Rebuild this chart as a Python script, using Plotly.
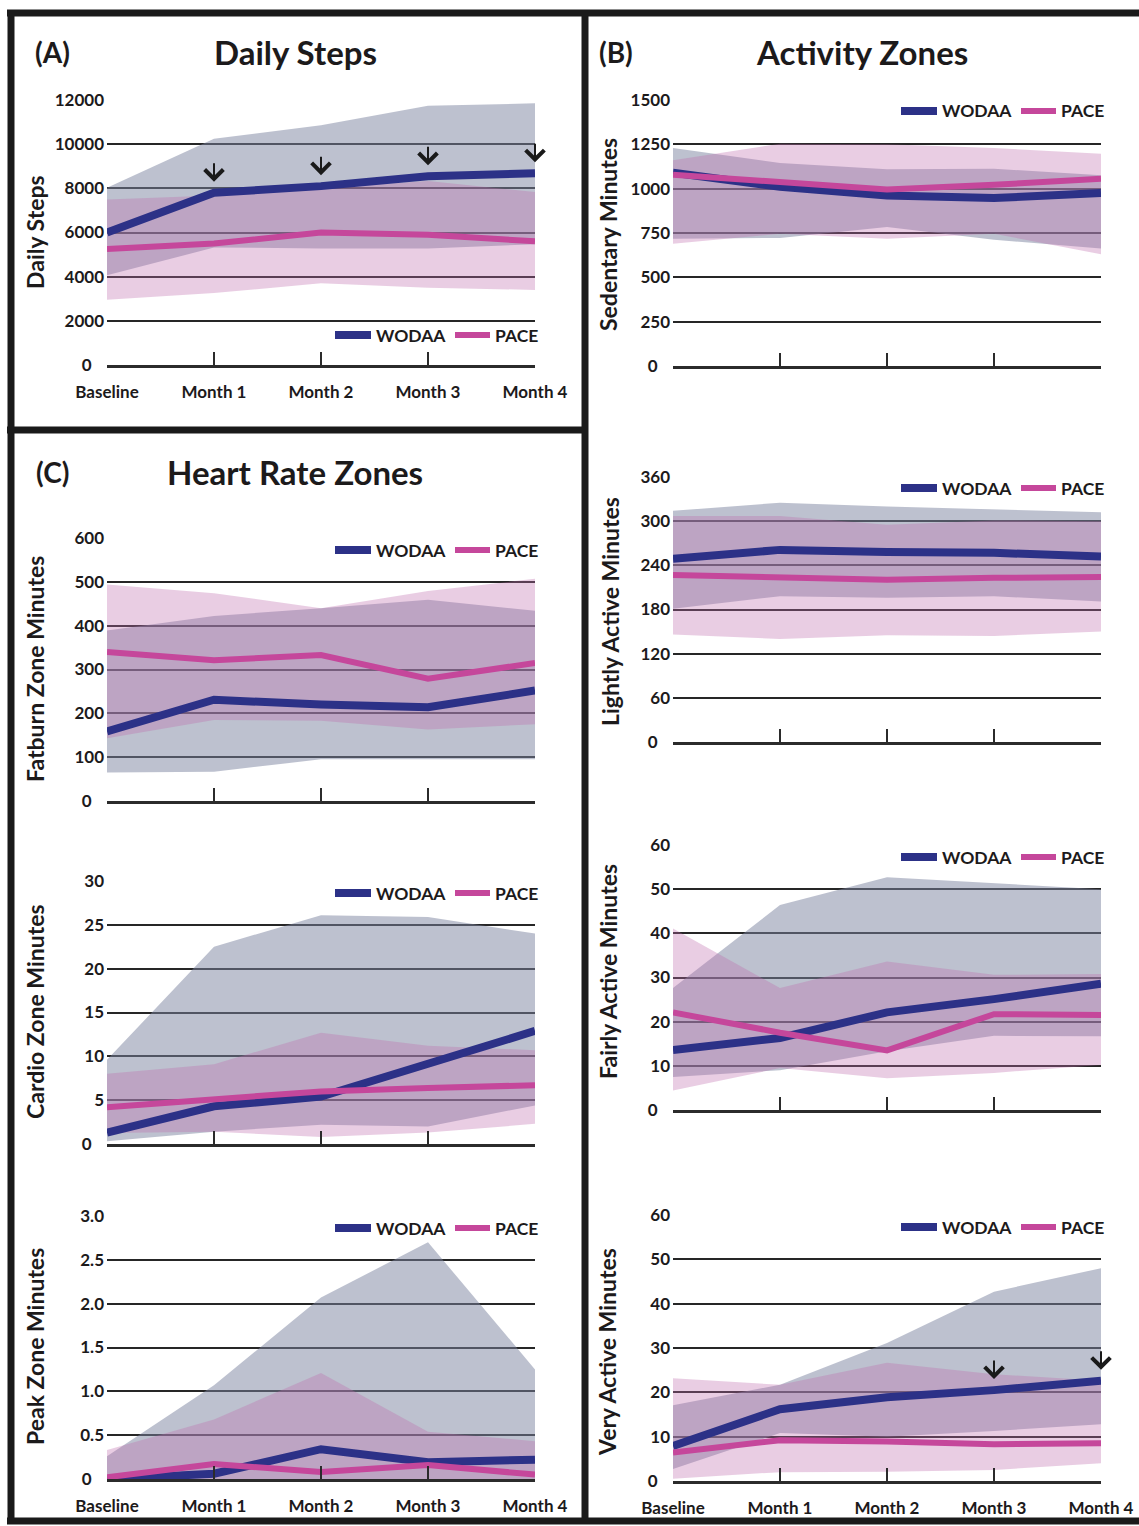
import plotly.graph_objects as go

W, H = 1139, 1526

months = ["Baseline", "Month 1", "Month 2", "Month 3", "Month 4"]
series_names = ["WODAA", "PACE"]

# ---------------- data ----------------
# (A) Daily steps
steps_wodaa = [6000, 7800, 8100, 8550, 8680]
steps_pace = [5250, 5500, 6000, 5900, 5600]
steps_wodaa_hi = [8030, 10240, 10860, 11740, 11850]
steps_wodaa_lo = [4060, 5320, 5280, 5280, 5470]
steps_pace_hi = [7500, 7680, 8030, 8330, 7830]
steps_pace_lo = [2960, 3260, 3700, 3500, 3400]
steps_arrow_months = ["Month 1", "Month 2", "Month 3", "Month 4"]

# (B) Sedentary minutes
sed_wodaa = [1090, 1010, 962, 947, 975]
sed_pace = [1079, 1038, 996, 1022, 1056]
sed_wodaa_hi = [1229, 1145, 1109, 1113, 1075]
sed_wodaa_lo = [718, 722, 784, 712, 662]
sed_pace_hi = [1160, 1253, 1250, 1229, 1197]
sed_pace_lo = [690, 746, 718, 746, 630]

# (B) Lightly active minutes
light_wodaa = [249, 261, 258, 257, 252]
light_pace = [227, 224, 220.5, 223, 224]
light_wodaa_hi = [314, 325, 320, 316, 312]
light_wodaa_lo = [181, 198, 196, 198, 191]
light_pace_hi = [307, 307, 295, 301, 300]
light_pace_lo = [146, 140, 145, 144, 150]

# (B) Fairly active minutes
fair_wodaa = [13.6, 16.3, 22.1, 25.1, 28.6]
fair_pace = [22.1, 17.5, 13.5, 21.7, 21.5]
fair_wodaa_hi = [27.6, 46.4, 52.7, 51.3, 50.0]
fair_wodaa_lo = [7.5, 9.0, 13.3, 16.8, 16.7]
fair_pace_hi = [41.1, 27.6, 33.6, 30.6, 30.8]
fair_pace_lo = [4.4, 9.5, 7.2, 8.4, 10.2]

# (B) Very active minutes
very_wodaa = [7.9, 16.2, 18.9, 20.5, 22.6]
very_pace = [6.4, 9.2, 8.9, 8.3, 8.5]
very_wodaa_hi = [17.1, 21.7, 31.1, 42.7, 48.0]
very_wodaa_lo = [2.7, 10.8, 10.0, 11.3, 12.8]
very_pace_hi = [23.2, 21.7, 26.7, 24.1, 22.6]
very_pace_lo = [0.5, 2.0, 2.1, 2.5, 4.0]
very_arrow_months = ["Month 3", "Month 4"]

# (C) Fatburn zone minutes
fat_wodaa = [159, 231, 220, 214, 252]
fat_pace = [340, 321, 333, 279, 315]
fat_wodaa_hi = [389, 422, 440, 459, 434]
fat_wodaa_lo = [65, 67, 95, 95, 95]
fat_pace_hi = [494, 474, 440, 479, 507]
fat_pace_lo = [143, 185, 183, 163, 175]

# (C) Cardio zone minutes
cardio_wodaa = [1.3, 4.3, 5.4, 9.2, 12.9]
cardio_pace = [4.2, 5.1, 6.0, 6.4, 6.7]
cardio_wodaa_hi = [9.6, 22.5, 26.1, 25.9, 24.0]
cardio_wodaa_lo = [0.3, 1.4, 2.2, 2.0, 4.4]
cardio_pace_hi = [8.0, 9.1, 12.7, 11.2, 10.7]
cardio_pace_lo = [1.25, 1.4, 0.8, 1.3, 2.3]

# (C) Peak zone minutes
peak_wodaa = [0.0, 0.06, 0.34, 0.19, 0.22]
peak_pace = [0.02, 0.17, 0.08, 0.16, 0.05]
peak_wodaa_hi = [0.26, 1.07, 2.07, 2.70, 1.25]
peak_wodaa_lo = [-0.04, 0.0, 0.0, 0.0, 0.0]
peak_pace_hi = [0.33, 0.68, 1.21, 0.54, 0.43]
peak_pace_lo = [0.0, 0.0, 0.0, 0.0, 0.0]

# tick values / labels
steps_ticks = [0, 2000, 4000, 6000, 8000, 10000, 12000]
sed_ticks = [0, 250, 500, 750, 1000, 1250, 1500]
light_ticks = [0, 60, 120, 180, 240, 300, 360]
fair_ticks = [0, 10, 20, 30, 40, 50, 60]
very_ticks = [0, 10, 20, 30, 40, 50, 60]
fat_ticks = [0, 100, 200, 300, 400, 500, 600]
cardio_ticks = [0, 5, 10, 15, 20, 25, 30]
peak_ticks = [0, 0.5, 1.0, 1.5, 2.0, 2.5, 3.0]
peak_ticktext = ["0", "0.5", "1.0", "1.5", "2.0", "2.5", "3.0"]

# ---------------- styling ----------------
C_WODAA = "#2c3187"
C_PACE = "#c5479b"
F_WODAA = "rgba(123,131,159,0.5)"
F_PACE = "rgba(190,108,173,0.34)"
TXT = "#1c1a1b"
FONT = "Lato, 'Open Sans', sans-serif"
LW_WODAA = 8
LW_PACE = 6
ZERO_PAD = "\u00a0\u00a0\u00a0"   # the "0" label sits a little further left


def px_x(p):
    return p / W


def px_y(p):
    return 1 - p / H


def tick_labels(vals, texts=None):
    labels = texts if texts is not None else [str(int(v)) for v in vals]
    return [t + ZERO_PAD if v == 0 else t for v, t in zip(vals, labels)]


panels = [
    dict(wod=steps_wodaa, pace=steps_pace, wh=steps_wodaa_hi, wl=steps_wodaa_lo,
         ph=steps_pace_hi, pl=steps_pace_lo, ticks=steps_ticks, ticktext=None,
         box=(107, 535, 100, 365), xlabels=True, title="Daily Steps",
         tpos=(35, 232), leg=(535, 335), arrows=steps_arrow_months),
    dict(wod=sed_wodaa, pace=sed_pace, wh=sed_wodaa_hi, wl=sed_wodaa_lo,
         ph=sed_pace_hi, pl=sed_pace_lo, ticks=sed_ticks, ticktext=None,
         box=(673, 1101, 100, 366), xlabels=False, title="Sedentary Minutes",
         tpos=(608, 235), leg=(1101, 111), arrows=[]),
    dict(wod=light_wodaa, pace=light_pace, wh=light_wodaa_hi, wl=light_wodaa_lo,
         ph=light_pace_hi, pl=light_pace_lo, ticks=light_ticks, ticktext=None,
         box=(673, 1101, 477, 742), xlabels=False, title="Lightly Active Minutes",
         tpos=(610, 612), leg=(1101, 488), arrows=[]),
    dict(wod=fair_wodaa, pace=fair_pace, wh=fair_wodaa_hi, wl=fair_wodaa_lo,
         ph=fair_pace_hi, pl=fair_pace_lo, ticks=fair_ticks, ticktext=None,
         box=(673, 1101, 845, 1110), xlabels=False, title="Fairly Active Minutes",
         tpos=(608, 972), leg=(1101, 857), arrows=[]),
    dict(wod=very_wodaa, pace=very_pace, wh=very_wodaa_hi, wl=very_wodaa_lo,
         ph=very_pace_hi, pl=very_pace_lo, ticks=very_ticks, ticktext=None,
         box=(673, 1101, 1215, 1481), xlabels=True, title="Very Active Minutes",
         tpos=(607, 1352), leg=(1101, 1227), arrows=very_arrow_months),
    dict(wod=fat_wodaa, pace=fat_pace, wh=fat_wodaa_hi, wl=fat_wodaa_lo,
         ph=fat_pace_hi, pl=fat_pace_lo, ticks=fat_ticks, ticktext=None,
         box=(107, 535, 538, 801), xlabels=False, title="Fatburn Zone Minutes",
         tpos=(35, 669), leg=(535, 550), arrows=[]),
    dict(wod=cardio_wodaa, pace=cardio_pace, wh=cardio_wodaa_hi, wl=cardio_wodaa_lo,
         ph=cardio_pace_hi, pl=cardio_pace_lo, ticks=cardio_ticks, ticktext=None,
         box=(107, 535, 881, 1144), xlabels=False, title="Cardio Zone Minutes",
         tpos=(35, 1012), leg=(535, 893), arrows=[]),
    dict(wod=peak_wodaa, pace=peak_pace, wh=peak_wodaa_hi, wl=peak_wodaa_lo,
         ph=peak_pace_hi, pl=peak_pace_lo, ticks=peak_ticks, ticktext=peak_ticktext,
         box=(107, 535, 1216, 1479), xlabels=True, title="Peak Zone Minutes",
         tpos=(35, 1347), leg=(535, 1228), arrows=[]),
]

fig = go.Figure()
layout = dict(
    width=W, height=H,
    margin=dict(l=0, r=0, t=0, b=0, pad=0, autoexpand=False),
    paper_bgcolor="white", plot_bgcolor="rgba(0,0,0,0)",
    font=dict(family=FONT, size=17, color=TXT, weight=700),
    showlegend=False,
)
annotations = []
shapes = []

for i, p in enumerate(panels, start=1):
    xa = "x" if i == 1 else f"x{i}"
    ya = "y" if i == 1 else f"y{i}"
    # bands
    fig.add_trace(go.Scatter(x=months + months[::-1], y=p["wh"] + p["wl"][::-1],
                             fill="toself", fillcolor=F_WODAA, mode="lines",
                             line=dict(width=0), hoverinfo="skip", showlegend=False,
                             xaxis=xa, yaxis=ya))
    fig.add_trace(go.Scatter(x=months + months[::-1], y=p["ph"] + p["pl"][::-1],
                             fill="toself", fillcolor=F_PACE, mode="lines",
                             line=dict(width=0), hoverinfo="skip", showlegend=False,
                             xaxis=xa, yaxis=ya))
    # lines
    fig.add_trace(go.Scatter(x=months, y=p["wod"], mode="lines", name=series_names[0],
                             line=dict(color=C_WODAA, width=LW_WODAA),
                             xaxis=xa, yaxis=ya))
    fig.add_trace(go.Scatter(x=months, y=p["pace"], mode="lines", name=series_names[1],
                             line=dict(color=C_PACE, width=LW_PACE),
                             xaxis=xa, yaxis=ya))

    x0, x1, y0, y1 = p["box"]
    xkey = "xaxis" if i == 1 else f"xaxis{i}"
    ykey = "yaxis" if i == 1 else f"yaxis{i}"
    layout[xkey] = dict(
        domain=[px_x(x0), px_x(x1)], anchor=ya, type="category",
        categoryorder="array", categoryarray=months, range=[0, 4],
        showgrid=False, zeroline=False, showline=True, linecolor="#2b2b2b",
        linewidth=2.5, ticks="inside", ticklen=13, tickwidth=2, tickcolor="#2b2b2b",
        showticklabels=p["xlabels"], ticklabelstandoff=10, automargin=False,
        tickfont=dict(size=17, color=TXT, family=FONT, weight=700),
        fixedrange=True,
    )
    layout[ykey] = dict(
        domain=[px_y(y1), px_y(y0)], anchor=xa,
        range=[0, p["ticks"][-1]], tickmode="array", tickvals=p["ticks"],
        ticktext=tick_labels(p["ticks"], p["ticktext"]),
        showgrid=True, gridcolor="#262626", gridwidth=2, zeroline=False,
        showline=False, ticks="", ticklabelstandoff=2, automargin=False,
        tickfont=dict(size=17, color=TXT, family=FONT, weight=700),
        fixedrange=True,
    )

    # legend (swatches + labels at the panel's right)
    R, ly = p["leg"]
    for (s0, s1, t0), name, col, lw in [((R - 200, R - 164, R - 161), series_names[0], C_WODAA, LW_WODAA),
                                        ((R - 80, R - 45, R - 42), series_names[1], C_PACE, LW_PACE)]:
        shapes.append(dict(type="line", xref="paper", yref="paper",
                           x0=px_x(s0), x1=px_x(s1), y0=px_y(ly), y1=px_y(ly),
                           line=dict(color=col, width=lw)))
        annotations.append(dict(
            text=name, x=px_x(t0), y=px_y(ly), xref="paper", yref="paper",
            showarrow=False, xanchor="left", yanchor="middle",
            font=dict(size=17.5, color=TXT, family=FONT, weight=700)))

    tx, ty = p["tpos"]
    annotations.append(dict(
        text=p["title"], x=px_x(tx), y=px_y(ty), xref="paper", yref="paper",
        showarrow=False, textangle=-90, xanchor="center", yanchor="middle",
        font=dict(size=23, color=TXT, family=FONT, weight=700)))

    for m in p["arrows"]:
        val = p["wod"][months.index(m)]
        annotations.append(dict(
            x=m, y=val, xref=xa, yref=ya, text="", showarrow=True,
            arrowhead=4, arrowsize=1.8, arrowwidth=2, arrowcolor="#1a1a1a",
            ax=0, ay=-31, standoff=11))

# panel headings
for txt, cx, cy, size in [("(A)", 53, 52, 28), ("Daily Steps", 295, 52, 33),
                          ("(B)", 616, 52, 28), ("Activity Zones", 862, 52, 33),
                          ("(C)", 53, 472, 28), ("Heart Rate Zones", 295, 472, 33)]:
    annotations.append(dict(
        text=txt, x=px_x(cx), y=px_y(cy), xref="paper", yref="paper",
        showarrow=False, xanchor="center", yanchor="middle",
        font=dict(size=size, color=TXT, family=FONT, weight=700)))

# panel frames
BC = "#1a1a1a"
BW = 7
frame_lines = [
    (7, 13, W + 10, 13),       # top
    (11, 10, 11, 1524),        # left
    (7, 430, 585, 430),        # between A and C
    (585, 10, 585, 1524),      # middle
    (7, 1521, W + 10, 1521),   # bottom
]
for a, b, c, d in frame_lines:
    shapes.append(dict(type="line", xref="paper", yref="paper",
                       x0=px_x(a), y0=px_y(b), x1=px_x(c), y1=px_y(d),
                       line=dict(color=BC, width=BW)))

layout["annotations"] = annotations
layout["shapes"] = shapes

fig.update_layout(**layout)
fig.write_html(
    "out.html",
    config={"displayModeBar": False, "staticPlot": True},
    post_script="document.body.style.margin='0';document.body.style.overflow='hidden';",
)
